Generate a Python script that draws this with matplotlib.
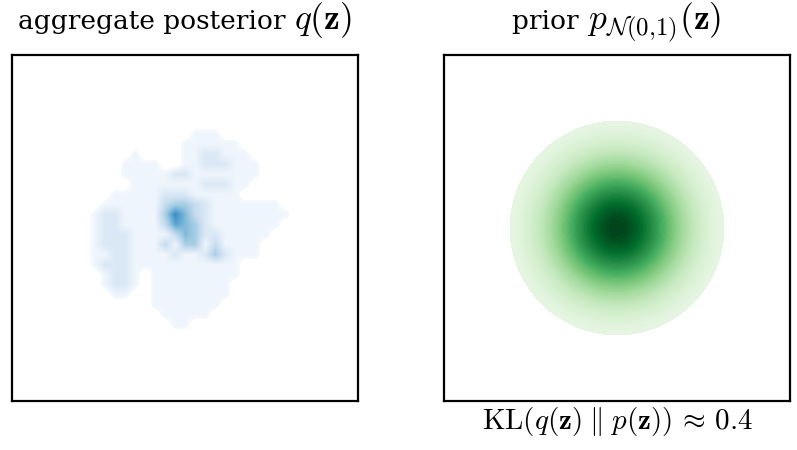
import numpy as np
import matplotlib
matplotlib.use('Agg')
import matplotlib.pyplot as plt
from matplotlib import colors as mcolors

# Aggregate posterior q(z): rough density, coarse grid
# (rows top -> bottom, 0 = empty, 9 = darkest)
qRows = [
	"000000000000000000000000",
	"000000000001110000000000",
	"000000000011111100000000",
	"000001000011221110000000",
	"000011110011222111000000",
	"000011111221111111000000",
	"000001111111222110000000",
	"000111112221111100000000",
	"001111113443211111110000",
	"012211114753211111111000",
	"012211113654211111110000",
	"012221111354221111100000",
	"012221113144131111000000",
	"011221111211242111000000",
	"012221111111111100000000",
	"001221011111111100000000",
	"001221011111111000000000",
	"000110011111111000000000",
	"000000011111110000000000",
	"000000001111100000000000",
	"000000000110000000000000",
	"000000000000000000000000",
]
qExtent = [-2.43, 3.12, -2.59, 2.50]	# left, right, bottom, top in z-space

# Prior p_N(0,1)(z)
priorMean = 0.0
priorStd = 1.0
priorCutRadius = 2.47	# outermost filled contour
nLevels = 60

zLim = 4.0
klValue = 0.4

titleLeft = ('aggregate posterior ', r'$q(\mathbf{z})$')
titleRight = ('prior ', r'$p_{\mathcal{N}(0{,}1)}(\mathbf{z})$')
klText = r'$\mathrm{KL}(q(\mathbf{z})\;\|\;p(\mathbf{z}))\,\approx\,%.1f$' % klValue

plt.rcParams['font.family'] = ['DejaVu Serif']
plt.rcParams['mathtext.fontset'] = 'cm'

fig = plt.figure(figsize=(7.97, 4.5), dpi=100, facecolor='w')
axQ = fig.add_axes([12/797., 49/450., 346/797., 346/450.])
axP = fig.add_axes([444/797., 49/450., 346/797., 346/450.])

# --- left: aggregate posterior
qGrid = np.array([[int(c) for c in row] for row in qRows], dtype=float)
blues = plt.get_cmap('Blues').copy()
blues.set_under('white')
axQ.imshow(qGrid, extent=qExtent, origin='upper', cmap=blues,
	norm=mcolors.Normalize(vmin=0.55, vmax=10.5), interpolation='bilinear')

# --- right: prior density, filled contours
zs = np.linspace(-zLim, zLim, 401)
Z1, Z2 = np.meshgrid(zs, zs)
dens = np.exp(-((Z1 - priorMean)**2 + (Z2 - priorMean)**2) / (2*priorStd**2)) / (2*np.pi*priorStd**2)
lowLevel = np.exp(-priorCutRadius**2 / 2.) / (2*np.pi)
levels = np.linspace(lowLevel, dens.max(), nLevels)
axP.contourf(Z1, Z2, dens, levels=levels, cmap='Greens', vmin=-0.012, vmax=dens.max())

for ax in [axQ, axP]:
	ax.set_xlim(-zLim, zLim)
	ax.set_ylim(-zLim, zLim)
	ax.set_xticks([])
	ax.set_yticks([])
	for s in ax.spines.values():
		s.set_linewidth(1.6)
		s.set_color('k')

def twoPartTitle(ax, parts, textSize=19, mathSize=25.5, baseline=(450-29)/450.):
	# plain words and math drawn separately so the math can be a bit larger
	renderer = fig.canvas.get_renderer()
	t1 = fig.text(0, baseline, parts[0], fontsize=textSize, ha='left', va='baseline')
	t2 = fig.text(0, baseline, parts[1], fontsize=mathSize, ha='left', va='baseline')
	w1 = t1.get_window_extent(renderer).width
	w2 = t2.get_window_extent(renderer).width
	bb = ax.get_position()
	figW = fig.get_figwidth()*fig.dpi
	x0 = (bb.x0 + bb.x1)/2. - (w1 + w2)/2./figW
	t1.set_x(x0)
	t2.set_x(x0 + w1/figW)

twoPartTitle(axQ, titleLeft)
twoPartTitle(axP, titleRight)
axP.text(0.5, -0.082, klText, transform=axP.transAxes, ha='center', va='baseline', fontsize=21)

plt.savefig('out.png', dpi=100)
plt.close()
